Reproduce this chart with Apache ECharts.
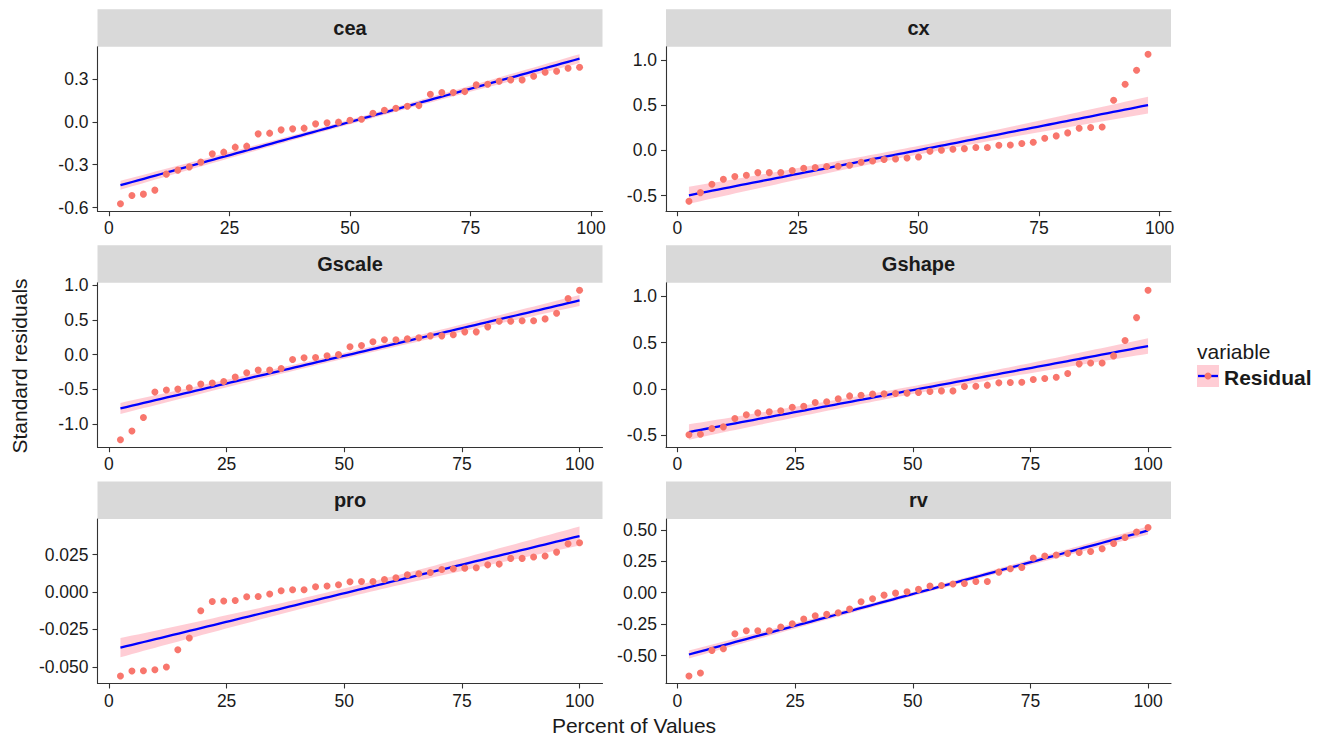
<!DOCTYPE html>
<html>
<head>
<meta charset="utf-8">
<script src="https://cdn.jsdelivr.net/npm/echarts@6/dist/echarts.min.js"></script>
<style>
html,body{margin:0;padding:0;background:#fff;}
#chart{width:1327px;height:739px;}
</style>
</head>
<body>
<div id="chart"></div>
<script>
// facets
var panelNames = ['cea', 'cx', 'Gscale', 'Gshape', 'pro', 'rv'];

// percent of values (x) - cea/cx stop at 97.6, the rest run to 100
var pctA = [2.38,4.76,7.14,9.52,11.90,14.29,16.67,19.05,21.43,23.81,26.19,28.57,30.95,33.33,35.71,38.10,40.48,42.86,45.24,47.62,50.00,
            52.38,54.76,57.14,59.52,61.90,64.29,66.67,69.05,71.43,73.81,76.19,78.57,80.95,83.33,85.71,88.10,90.48,92.86,95.24,97.62];
var pctB = [2.44,4.88,7.32,9.76,12.20,14.63,17.07,19.51,21.95,24.39,26.83,29.27,31.71,34.15,36.59,39.02,41.46,43.90,46.34,48.78,51.22,
            53.66,56.10,58.54,60.98,63.41,65.85,68.29,70.73,73.17,75.61,78.05,80.49,82.93,85.37,87.80,90.24,92.68,95.12,97.56,100.00];

// standard residuals (y), sorted
var ceaRes = [-0.573,-0.515,-0.506,-0.478,-0.366,-0.338,-0.315,-0.282,-0.224,-0.212,-0.177,-0.170,-0.084,-0.079,-0.056,-0.049,-0.044,-0.014,-0.007,-0.002,
              0.011,0.018,0.060,0.081,0.095,0.109,0.114,0.193,0.205,0.205,0.212,0.259,0.263,0.284,0.294,0.294,0.319,0.347,0.354,0.375,0.382];
var cxRes = [-0.564,-0.468,-0.376,-0.321,-0.291,-0.276,-0.247,-0.247,-0.247,-0.225,-0.199,-0.191,-0.180,-0.177,-0.166,-0.133,-0.118,-0.103,-0.096,-0.085,
             -0.074,-0.011,0.000,0.011,0.018,0.030,0.030,0.055,0.059,0.074,0.089,0.133,0.159,0.192,0.243,0.251,0.258,0.553,0.730,0.885,1.062];
var gscaleRes = [-1.229,-1.104,-0.908,-0.542,-0.513,-0.499,-0.480,-0.427,-0.412,-0.389,-0.326,-0.264,-0.225,-0.225,-0.202,-0.072,-0.048,-0.043,-0.019,0.000,
                 0.111,0.130,0.183,0.212,0.212,0.226,0.241,0.269,0.269,0.284,0.327,0.327,0.399,0.481,0.481,0.486,0.486,0.514,0.596,0.807,0.928];
var gshapeRes = [-0.496,-0.489,-0.428,-0.410,-0.320,-0.280,-0.259,-0.248,-0.237,-0.198,-0.187,-0.148,-0.140,-0.108,-0.076,-0.068,-0.057,-0.054,-0.050,-0.046,
                 -0.040,-0.029,-0.022,-0.022,0.025,0.029,0.040,0.065,0.068,0.072,0.101,0.111,0.126,0.165,0.270,0.280,0.280,0.356,0.521,0.769,1.065];
var proRes = [-0.0561,-0.0528,-0.0526,-0.0519,-0.0501,-0.0386,-0.0307,-0.0125,-0.0063,-0.0060,-0.0056,-0.0031,-0.0029,-0.0013,0.0009,0.0015,0.0015,0.0035,0.0040,0.0049,
              0.0069,0.0071,0.0071,0.0084,0.0096,0.0116,0.0122,0.0131,0.0151,0.0156,0.0160,0.0162,0.0182,0.0187,0.0225,0.0225,0.0234,0.0241,0.0267,0.0323,0.0330];
var rvRes = [-0.663,-0.639,-0.459,-0.446,-0.326,-0.302,-0.302,-0.302,-0.273,-0.247,-0.209,-0.183,-0.172,-0.159,-0.130,-0.072,-0.048,-0.019,-0.003,0.008,
             0.027,0.053,0.058,0.069,0.074,0.090,0.090,0.164,0.191,0.202,0.276,0.292,0.300,0.313,0.321,0.329,0.350,0.392,0.440,0.483,0.520];

// tick labels
var xTicks = [0, 25, 50, 75, 100];
var ceaTicks = [-0.6, -0.3, 0, 0.3];
var cxTicks = [-0.5, 0, 0.5, 1];
var gscaleTicks = [-1, -0.5, 0, 0.5, 1];
var gshapeTicks = [-0.5, 0, 0.5, 1];
var proTicks = [-0.05, -0.025, 0, 0.025];
var rvTicks = [-0.5, -0.25, 0, 0.25, 0.5];
var tickDigits = [1, 1, 1, 1, 3, 2];

var panelX = [pctA, pctA, pctB, pctB, pctB, pctB];
var panelY = [ceaRes, cxRes, gscaleRes, gshapeRes, proRes, rvRes];
var panelTicks = [ceaTicks, cxTicks, gscaleTicks, gshapeTicks, proTicks, rvTicks];

var FONT = '"Liberation Sans", Arial, sans-serif';
var TXT = '#1a1a1a';
var AXIS = '#333333';

// linear fit + 95% band, same thing geom_smooth(method = "lm") draws
function lmFit(xs, ys) {
	var n = xs.length, mx = 0, my = 0, i;
	for (i = 0; i < n; i++) { mx += xs[i]; my += ys[i]; }
	mx /= n; my /= n;
	var sxx = 0, sxy = 0;
	for (i = 0; i < n; i++) {
		sxx += (xs[i] - mx) * (xs[i] - mx);
		sxy += (xs[i] - mx) * (ys[i] - my);
	}
	var b = sxy / sxx, a = my - b * mx;
	var sse = 0;
	for (i = 0; i < n; i++) { var r = ys[i] - a - b * xs[i]; sse += r * r; }
	var s = Math.sqrt(sse / (n - 2));
	var t = 2.0227; // qt(0.975, 39)
	var fit = [], band = [];
	var x0 = xs[0], x1 = xs[n - 1];
	for (i = 0; i < 80; i++) {
		var x = x0 + (x1 - x0) * i / 79;
		var yh = a + b * x;
		var se = s * Math.sqrt(1 / n + (x - mx) * (x - mx) / sxx);
		fit.push([x, yh]);
		band.push([x, yh - t * se, yh + t * se]);
	}
	return { fit: fit, band: band };
}

// layout
var colLeft = [97.5, 666];
var colWidth = 505;
var rowTop = [46.7, 282.7, 519];
var plotH = 164.5;
var stripH = 37.5;

var grids = [], xAxes = [], yAxes = [], series = [], graphics = [];

panelNames.forEach(function (name, i) {
	var col = i % 2, row = Math.floor(i / 2);
	var xs = panelX[i], ys = panelY[i];
	var lm = lmFit(xs, ys);

	var xmin = Math.min.apply(null, xs), xmax = Math.max.apply(null, xs);
	var xpad = (xmax - xmin) * 0.05;
	var ymin = Math.min.apply(null, ys), ymax = Math.max.apply(null, ys);
	lm.band.forEach(function (b) { ymin = Math.min(ymin, b[1]); ymax = Math.max(ymax, b[2]); });
	var ypad = (ymax - ymin) * 0.05;

	grids.push({ left: colLeft[col], top: rowTop[row], width: colWidth, height: plotH, containLabel: false });

	xAxes.push({
		gridIndex: i, type: 'value', min: xmin - xpad, max: xmax + xpad,
		axisLine: { show: true, onZero: false, lineStyle: { color: AXIS, width: 1.1 } },
		axisTick: { show: true, length: 5, customValues: xTicks, lineStyle: { color: AXIS, width: 1.1 } },
		axisLabel: { customValues: xTicks, fontSize: 17.5, color: TXT, margin: 8, fontFamily: FONT },
		splitLine: { show: false }
	});

	var d = tickDigits[i];
	yAxes.push({
		gridIndex: i, type: 'value', min: ymin - ypad, max: ymax + ypad,
		axisLine: { show: true, onZero: false, lineStyle: { color: AXIS, width: 1.1 } },
		axisTick: { show: true, length: 5, customValues: panelTicks[i], lineStyle: { color: AXIS, width: 1.1 } },
		axisLabel: {
			customValues: panelTicks[i], fontSize: 17.5, color: TXT, margin: 9, fontFamily: FONT,
			formatter: function (v) { return (Math.abs(v) < 1e-9 ? 0 : v).toFixed(d); }
		},
		splitLine: { show: false }
	});

	var band = lm.band;
	series.push({
		type: 'custom', xAxisIndex: i, yAxisIndex: i, silent: true, z: 1,
		data: band,
		encode: { x: 0, y: [1, 2] },
		renderItem: function (params, api) {
			if (params.dataIndex !== 0) return null;
			var pts = [], k;
			for (k = 0; k < band.length; k++) pts.push(api.coord([band[k][0], band[k][2]]));
			for (k = band.length - 1; k >= 0; k--) pts.push(api.coord([band[k][0], band[k][1]]));
			return { type: 'polygon', shape: { points: pts }, style: { fill: 'rgba(255,192,203,0.8)' } };
		}
	});
	series.push({
		type: 'line', xAxisIndex: i, yAxisIndex: i, data: lm.fit, showSymbol: false, silent: true, z: 3,
		lineStyle: { color: '#0000ff', width: 2.3 }
	});
	series.push({
		type: 'scatter', xAxisIndex: i, yAxisIndex: i, z: 4, symbolSize: 7,
		data: xs.map(function (x, k) { return [x, ys[k]]; }),
		itemStyle: { color: '#F8766D', opacity: 1 }
	});

	// strip
	graphics.push({
		type: 'rect', left: colLeft[col], top: rowTop[row] - stripH,
		shape: { width: colWidth, height: stripH }, style: { fill: '#d9d9d9' }, silent: true
	});
	graphics.push({
		type: 'text', x: colLeft[col] + colWidth / 2, y: rowTop[row] - stripH / 2,
		style: { text: name, font: 'bold 20px ' + FONT, fill: TXT, align: 'center', verticalAlign: 'middle' }
	});
});

// axis titles
graphics.push({
	type: 'text', x: 634, y: 725,
	style: { text: 'Percent of Values', font: '21px ' + FONT, fill: TXT, align: 'center', verticalAlign: 'middle' }
});
graphics.push({
	type: 'text', x: 19, y: 366, rotation: Math.PI / 2,
	style: { text: 'Standard residuals', font: '21px ' + FONT, fill: TXT, align: 'center', verticalAlign: 'middle' }
});

// legend
graphics.push({
	type: 'text', x: 1197, y: 351,
	style: { text: 'variable', font: '21px ' + FONT, fill: TXT, align: 'left', verticalAlign: 'middle' }
});
graphics.push({
	type: 'rect', shape: { x: 1197, y: 365, width: 22, height: 22 }, style: { fill: 'rgba(255,192,203,0.8)' }
});
graphics.push({
	type: 'line', shape: { x1: 1198, y1: 376, x2: 1218, y2: 376 }, style: { stroke: '#0000ff', lineWidth: 2.3 }
});
graphics.push({
	type: 'circle', shape: { cx: 1208, cy: 376, r: 3.5 }, style: { fill: '#F8766D' }
});
graphics.push({
	type: 'text', x: 1224, y: 377,
	style: { text: 'Residual', font: 'bold 21px ' + FONT, fill: TXT, align: 'left', verticalAlign: 'middle' }
});

var chart = echarts.init(document.getElementById('chart'), null, { renderer: 'svg' });
chart.setOption({
	animation: false,
	backgroundColor: '#ffffff',
	grid: grids,
	xAxis: xAxes,
	yAxis: yAxes,
	series: series,
	graphic: { elements: graphics }
});
</script>
</body>
</html>
